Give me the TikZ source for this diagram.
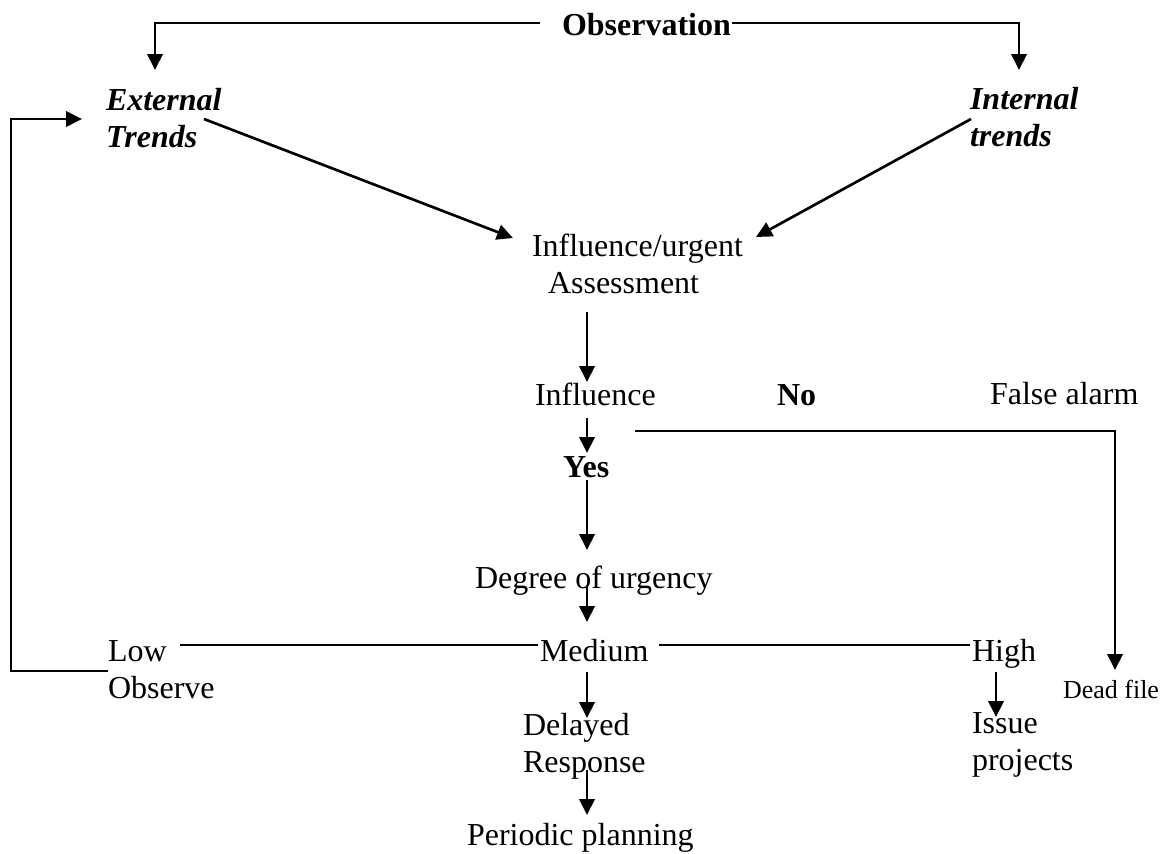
\documentclass[tikz,border=0pt]{standalone}
\usepackage{fontspec}
\setmainfont{Liberation Serif}
\usetikzlibrary{arrows.meta}
\begin{document}
\begin{tikzpicture}[x=0.75pt,y=-0.75pt,
  lbl/.style={inner sep=0pt,outer sep=0pt,anchor=base west,align=left,
    font=\fontsize{24}{27.6}\selectfont},
  blbl/.style={lbl,font=\fontsize{24}{27.6}\selectfont\bfseries},
  bilbl/.style={lbl,font=\fontsize{24}{27.6}\selectfont\bfseries\itshape},
  slbl/.style={lbl,font=\fontsize{19.5}{23}\selectfont},
  conn/.style={line width=2pt},
  arr/.style={conn,-{Triangle[length=12pt,width=11.5pt]}}]
\useasboundingbox (0,0) rectangle (1163,853);
% nodes (base anchor of a two-line node is the baseline of its last line)
\node[blbl]  (obs)    at (562,35)  {Observation};
\node[bilbl] (ext)    at (106,147) {External\\Trends};
\node[bilbl] (int)    at (970,146) {Internal\\trends};
\node[lbl]   (assess) at (532,293) {Influence/urgent\\\hspace*{12pt}Assessment};
\node[lbl]   (infl)   at (535,405) {Influence};
\node[blbl]  (no)     at (777,405) {No};
\node[lbl]   (false)  at (990,404) {False alarm};
\node[blbl]  (yes)    at (563,477) {Yes};
\node[lbl]   (degree) at (475,588) {Degree of urgency};
\node[lbl]   (low)    at (108,661) {Low};
\node[lbl]   (medium) at (540,661) {Medium};
\node[lbl]   (high)   at (972,661) {High};
\node[lbl]   (observe) at (108,698) {Observe};
\node[slbl]  (dead)   at (1063,698) {Dead file};
\node[lbl]   (delayed) at (523,772) {Delayed\\Response};
\node[lbl]   (issue)  at (972,770) {Issue\\projects};
\node[lbl]   (periodic) at (467,845) {Periodic planning};
% connector end points
\coordinate (obsL)   at (540,23);
\coordinate (obsR)   at (732,23);
\coordinate (extTop) at (155,70);
\coordinate (intTop) at (1019,70);
\coordinate (extOut) at (204,119);
\coordinate (extIn)  at (82,119);
\coordinate (intOut) at (971,119);
\coordinate (asIL)   at (513,238);
\coordinate (asIR)   at (756,237);
\coordinate (asOut)  at (587,312);
\coordinate (inflIn) at (587,382);
\coordinate (inflOut) at (587,418);
\coordinate (yesIn)  at (587,453);
\coordinate (yesOut) at (587,480);
\coordinate (degIn)  at (587,550);
\coordinate (noOut)  at (635,431);
\coordinate (deadIn) at (1115,670);
\coordinate (degOut) at (587,587);
\coordinate (medIn)  at (587,622);
\coordinate (lowR)   at (180,645);
\coordinate (medL)   at (538,645);
\coordinate (medR)   at (659,645);
\coordinate (highL)  at (970,645);
\coordinate (medOut) at (587,672);
\coordinate (delIn)  at (587,718);
\coordinate (highOut) at (996,672);
\coordinate (issIn)  at (996,717);
\coordinate (resOut) at (587,770);
\coordinate (perIn)  at (587,815);
\coordinate (lowOut) at (108,671);
\coordinate (fbA)    at (11,671);
\coordinate (fbB)    at (11,119);
% connectors
\draw[arr] (obsL) -| (extTop);
\draw[arr] (obsR) -| (intTop);
\draw[arr] (extOut) -- (asIL);
\draw[arr] (intOut) -- (asIR);
\draw[arr] (asOut) -- (inflIn);
\draw[arr] (inflOut) -- (yesIn);
\draw[arr] (yesOut) -- (degIn);
\draw[arr] (noOut) -| (deadIn);
\draw[arr] (degOut) -- (medIn);
\draw[conn] (lowR) -- (medL);
\draw[conn] (medR) -- (highL);
\draw[arr] (medOut) -- (delIn);
\draw[arr] (highOut) -- (issIn);
\draw[arr] (resOut) -- (perIn);
\draw[arr] (lowOut) -- (fbA) -- (fbB) -- (extIn);
\end{tikzpicture}
\end{document}
